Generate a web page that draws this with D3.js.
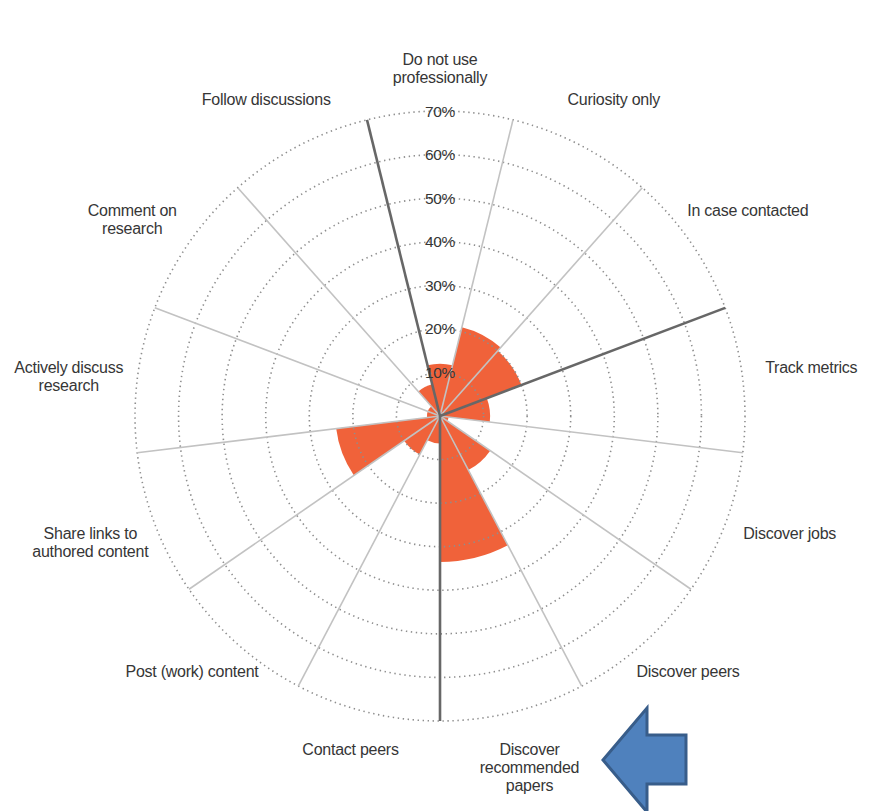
<!DOCTYPE html>
<html>
<head>
<meta charset="utf-8">
<script src="https://cdn.jsdelivr.net/npm/d3@7"></script>
<style>
  html, body { margin: 0; padding: 0; background: #fff; }
  svg { display: block; }
  text { font-family: "Liberation Sans", Arial, sans-serif; fill: #363636; }
</style>
</head>
<body>
<svg id="chart" width="881" height="811"></svg>
<script>
// ---- data ----
const categories = [
  "Do not use professionally",
  "Curiosity only",
  "In case contacted",
  "Track metrics",
  "Discover jobs",
  "Discover peers",
  "Discover recommended papers",
  "Contact peers",
  "Post (work) content",
  "Share links to authored content",
  "Actively discuss research",
  "Comment on research",
  "Follow discussions"
];
const labelLines = [
  ["Do not use", "professionally"],
  ["Curiosity only"],
  ["In case contacted"],
  ["Track metrics"],
  ["Discover jobs"],
  ["Discover peers"],
  ["Discover", "recommended", "papers"],
  ["Contact peers"],
  ["Post (work) content"],
  ["Share links to", "authored content"],
  ["Actively discuss", "research"],
  ["Comment on", "research"],
  ["Follow discussions"]
];
const values = [12, 21, 20, 11.5, 2, 14, 33.5, 6.3, 10, 24, 3, 3, 7.5];
const tickValues = [10, 20, 30, 40, 50, 60, 70];
const tickLabels = ["10%", "20%", "30%", "40%", "50%", "60%", "70%"];
// categories that start a new group (dark separator on their leading edge)
const groupStarts = ["Do not use professionally", "Track metrics", "Contact peers"];

// ---- layout ----
const cx = 440, cy = 416;
const outerR = 305;
const svg = d3.select("#chart");
const g = svg.append("g").attr("transform", `translate(${cx},${cy})`);

const n = categories.length;
const half = Math.PI / n;
const angle = d3.scaleBand()
  .domain(categories)
  .range([-half, 2 * Math.PI - half])
  .padding(0);
const r = d3.scaleLinear().domain([0, 70]).range([0, outerR]);

// wedges
const arc = d3.arc()
  .innerRadius(0)
  .outerRadius(d => r(d.v))
  .startAngle(d => angle(d.c))
  .endAngle(d => angle(d.c) + angle.bandwidth());

g.append("g").selectAll("path")
  .data(categories.map((c, i) => ({ c, v: values[i] })))
  .join("path")
  .attr("d", arc)
  .attr("fill", "#F0623A");

// dotted rings
g.append("g").selectAll("circle")
  .data(tickValues)
  .join("circle")
  .attr("r", d => r(d))
  .attr("fill", "none")
  .attr("stroke", "#8e8e8e")
  .attr("stroke-width", 1.6)
  .attr("stroke-dasharray", "1.4,3.6");

// spokes
const spokeData = categories.map(c => ({ a: angle(c), dark: groupStarts.includes(c) }))
  .sort((p, q) => p.dark - q.dark);
g.append("g").selectAll("line")
  .data(spokeData)
  .join("line")
  .attr("x1", 0).attr("y1", 0)
  .attr("x2", d => Math.sin(d.a) * outerR)
  .attr("y2", d => -Math.cos(d.a) * outerR)
  .attr("stroke", d => d.dark ? "#676767" : "#c2c2c2")
  .attr("stroke-width", d => d.dark ? 2.6 : 1.6);

// tick labels
g.append("g").selectAll("text")
  .data(tickValues)
  .join("text")
  .attr("x", 0)
  .attr("y", d => -r(d))
  .attr("dy", "0.36em")
  .attr("text-anchor", "middle")
  .attr("font-size", 15.5)
  .attr("letter-spacing", "-0.3")
  .text((d, i) => tickLabels[i]);

// category labels on an ellipse around the chart (first line at anchor, others below)
const rx = 374, ry = 350, lineH = 18, lift = 7;
const lab = g.append("g");
categories.forEach((c, i) => {
  const a = angle(c) + angle.bandwidth() / 2;
  const x = Math.sin(a) * rx;
  const y = -Math.cos(a) * ry - lift;
  const t = lab.append("text")
    .attr("text-anchor", "middle")
    .attr("font-size", 16)
    .attr("letter-spacing", "-0.25");
  labelLines[i].forEach((s, k) => {
    t.append("tspan")
      .attr("x", x)
      .attr("y", y + k * lineH)
      .attr("dy", "0.36em")
      .text(s);
  });
});

// blue annotation arrow pointing at "Discover recommended papers"
const arrowPts = [[603, 760], [647, 708], [647, 735], [686, 735], [686, 784], [647, 784], [647, 812]];
svg.append("path")
  .attr("d", d3.line()(arrowPts) + "Z")
  .attr("fill", "#4F81BD")
  .attr("stroke", "#385D8A")
  .attr("stroke-width", 3)
  .attr("stroke-linejoin", "miter");
</script>
</body>
</html>
